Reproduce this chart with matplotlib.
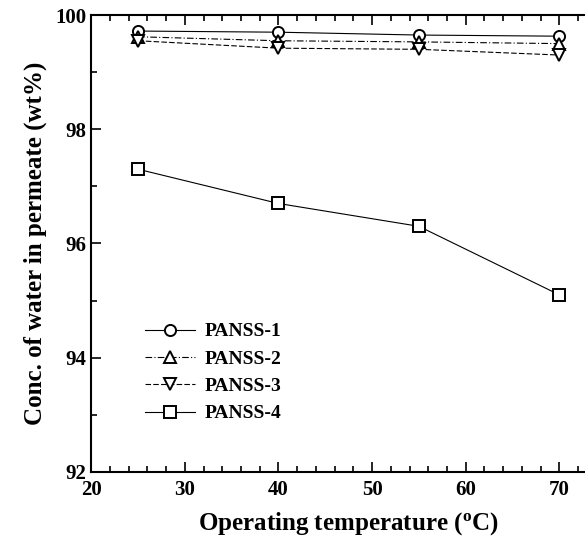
import numpy as np
import matplotlib
matplotlib.use('Agg')
from matplotlib import pyplot as plt
from matplotlib.ticker import MultipleLocator

#%% DATA

temps = [25, 40, 55, 70]
panss1 = [99.72, 99.70, 99.65, 99.63]
panss2 = [99.62, 99.55, 99.53, 99.50]
panss3 = [99.55, 99.42, 99.40, 99.30]
panss4 = [97.3, 96.7, 96.3, 95.1]
labels = ['PANSS-1', 'PANSS-2', 'PANSS-3', 'PANSS-4']

#%% PLOT

plt.rcParams['font.family'] = ['Liberation Serif', 'DejaVu Serif']

fig = plt.figure(figsize=(5.85, 5.38), dpi=100)
ax = fig.add_axes([0.156, 0.123, 0.88, 0.849])

styles = [('o', '-'), ('^', (0, (6, 2, 1, 2))), ('v', (0, (5, 2))), ('s', '-')]
for ys, lab, (m, ls) in zip([panss1, panss2, panss3, panss4], labels, styles):
    ax.plot(temps, ys, color='black', lw=0.8, ls=ls, marker=m, ms=8,
            mfc='white', mec='black', mew=1.4, label=lab)

ax.set_xlim(20, 75)
ax.set_ylim(92, 100)
ax.xaxis.set_major_locator(MultipleLocator(10))
ax.xaxis.set_minor_locator(MultipleLocator(2))
ax.yaxis.set_major_locator(MultipleLocator(2))
ax.yaxis.set_minor_locator(MultipleLocator(1))
ax.tick_params(which='both', direction='in', top=True, right=False,
               labelsize=15, width=1.2)
ax.tick_params(which='major', length=7)
ax.tick_params(which='minor', length=4)
ax.tick_params(axis='x', pad=6)
for lbl in ax.get_xticklabels() + ax.get_yticklabels():
    lbl.set_fontweight('bold')
for s in ax.spines.values():
    s.set_linewidth(1.5)

ax.set_xlabel('Operating temperature ($\\mathregular{^oC}$)', fontsize=18,
              fontweight='bold', labelpad=7)
ax.set_ylabel('Conc. of water in permeate (wt%)', fontsize=18,
              fontweight='bold', labelpad=6)

leg = ax.legend(loc='lower left', bbox_to_anchor=(0.07, 0.07), frameon=False,
                prop={'size': 14, 'weight': 'bold'}, handlelength=2.6,
                labelspacing=0.5, handletextpad=0.5)

fig.savefig('out.png', dpi=100)
